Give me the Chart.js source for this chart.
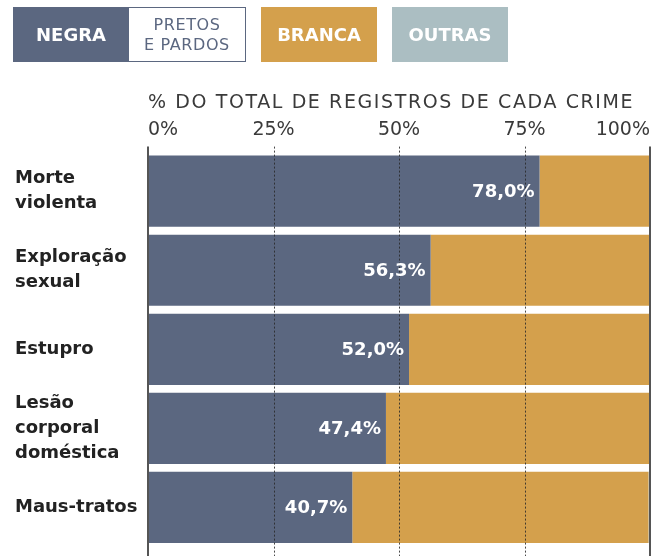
<!DOCTYPE html>
<html>
<head>
<meta charset="utf-8">
<script src="https://cdn.jsdelivr.net/npm/chart.js@4.4.1/dist/chart.umd.min.js"></script>
<style>
  html, body { margin: 0; padding: 0; background: #fff; }
  body { width: 666px; height: 556px; position: relative; overflow: hidden; font-family: "DejaVu Sans", sans-serif; }
  #legend { position: absolute; left: 13px; top: 7px; height: 55px; display: flex; z-index: 2; }
  #legend div { height: 55px; box-sizing: border-box; display: flex; align-items: center; justify-content: center; text-align: center; }
  .key { width: 116px; color: #fff; font-weight: 700; font-size: 18px; }
  .sub { width: 117px; border: 1.5px solid #5b6780; border-left: none; color: #5b6780; font-size: 16px; line-height: 20px; letter-spacing: 0.6px; }
  #wrap { position: absolute; left: 0; top: 0; width: 666px; height: 556px; }
</style>
</head>
<body>
<div id="legend">
  <div class="key" style="background:#5b6780">NEGRA</div>
  <div class="sub">PRETOS<br>E PARDOS</div>
  <div class="key" style="background:#d4a04c;margin-left:15px">BRANCA</div>
  <div class="key" style="background:#abbec2;margin-left:15px">OUTRAS</div>
</div>
<div id="wrap"><canvas id="chart"></canvas></div>
<script>
const categories = [
    ['Morte', 'violenta'],
    ['Exploração', 'sexual'],
    ['Estupro'],
    ['Lesão', 'corporal', 'doméstica'],
    ['Maus-tratos'],
];
const negra = [78.0, 56.3, 52.0, 47.4, 40.7];
const branca = [22.0, 43.7, 48.0, 52.6, 59.0];
const outras = [0, 0, 0, 0, 0.3];
const tickValues = [0, 25, 50, 75, 100];

const COLOR_NEGRA = '#5b6780';
const COLOR_BRANCA = '#d4a04c';
const COLOR_OUTRAS = '#abbec2';
const FONT = '"DejaVu Sans", sans-serif';

// wider tracking for the axis title only
const titleSpacing = {
    id: 'titleSpacing',
    afterUpdate(chart) {
        const scale = chart.scales.x;
        if (scale.__spaced) {
            return;
        }
        const drawTitle = scale.drawTitle.bind(scale);
        scale.drawTitle = () => {
            chart.ctx.letterSpacing = '1.6px';
            drawTitle();
            chart.ctx.letterSpacing = '0px';
        };
        scale.__spaced = true;
    },
};

// vertical reference lines, drawn over the bars
const guideLines = {
    id: 'guideLines',
    afterDatasetsDraw(chart) {
        const ctx = chart.ctx;
        const x = chart.scales.x;
        const top = chart.chartArea.top - 5;
        ctx.save();
        tickValues.forEach((v) => {
            let px = Math.round(x.getPixelForValue(v));
            ctx.beginPath();
            if (v === 0 || v === 100) {
                ctx.strokeStyle = '#555';
                ctx.lineWidth = 2;
                ctx.setLineDash([]);
            } else {
                ctx.strokeStyle = 'rgba(40,40,40,0.85)';
                ctx.lineWidth = 1;
                ctx.setLineDash([2, 2]);
                px += 0.5;
            }
            ctx.moveTo(px, top);
            ctx.lineTo(px, chart.height);
            ctx.stroke();
        });
        ctx.restore();
    },
};

// value labels at the end of the "negra" bars
const valueLabels = {
    id: 'valueLabels',
    afterDraw(chart) {
        const ctx = chart.ctx;
        const meta = chart.getDatasetMeta(0);
        ctx.save();
        ctx.fillStyle = '#fff';
        ctx.font = 'bold 18px ' + FONT;
        ctx.textAlign = 'right';
        ctx.textBaseline = 'middle';
        meta.data.forEach((bar, i) => {
            const label = negra[i].toFixed(1).replace('.', ',') + '%';
            ctx.fillText(label, bar.x - 5, bar.y + 1);
        });
        ctx.restore();
    },
};

new Chart(document.getElementById('chart'), {
    type: 'bar',
    data: {
        labels: categories,
        datasets: [
            { label: 'Negra', data: negra, backgroundColor: COLOR_NEGRA },
            { label: 'Branca', data: branca, backgroundColor: COLOR_BRANCA },
            { label: 'Outras', data: outras, backgroundColor: COLOR_OUTRAS },
        ],
    },
    options: {
        indexAxis: 'y',
        responsive: true,
        maintainAspectRatio: false,
        animation: false,
        events: [],
        layout: {
            padding: { left: 15, right: 16, top: 90, bottom: 9 },
        },
        datasets: {
            bar: { barPercentage: 0.9, categoryPercentage: 1, borderWidth: 0 },
        },
        plugins: {
            legend: { display: false },
            tooltip: { enabled: false },
        },
        scales: {
            x: {
                position: 'top',
                stacked: true,
                min: 0,
                max: 100,
                afterBuildTicks: (scale) => {
                    scale.ticks = tickValues.map((v) => ({ value: v }));
                },
                afterFit: (scale) => {
                    scale.paddingLeft = 0;
                    scale.paddingRight = 0;
                },
                grid: { display: false, drawTicks: false },
                border: { display: false },
                ticks: {
                    align: 'inner',
                    padding: 10,
                    color: '#3a3a3a',
                    font: { family: FONT, size: 19 },
                    callback: (v) => v + '%',
                },
                title: {
                    display: true,
                    text: '% DO TOTAL DE REGISTROS DE CADA CRIME',
                    align: 'start',
                    color: '#3a3a3a',
                    font: { family: FONT, size: 19 },
                    padding: { top: 2, bottom: -6 },
                },
            },
            y: {
                stacked: true,
                grid: { display: false, drawTicks: false },
                border: { display: false },
                afterFit: (scale) => {
                    scale.width = 133;
                    scale.paddingTop = 0;
                    scale.paddingBottom = 0;
                },
                ticks: {
                    autoSkip: false,
                    crossAlign: 'far',
                    color: '#222',
                    font: { family: FONT, size: 18, weight: 'bold', lineHeight: 1.39 },
                },
            },
        },
    },
    plugins: [titleSpacing, guideLines, valueLabels],
});
</script>
</body>
</html>
